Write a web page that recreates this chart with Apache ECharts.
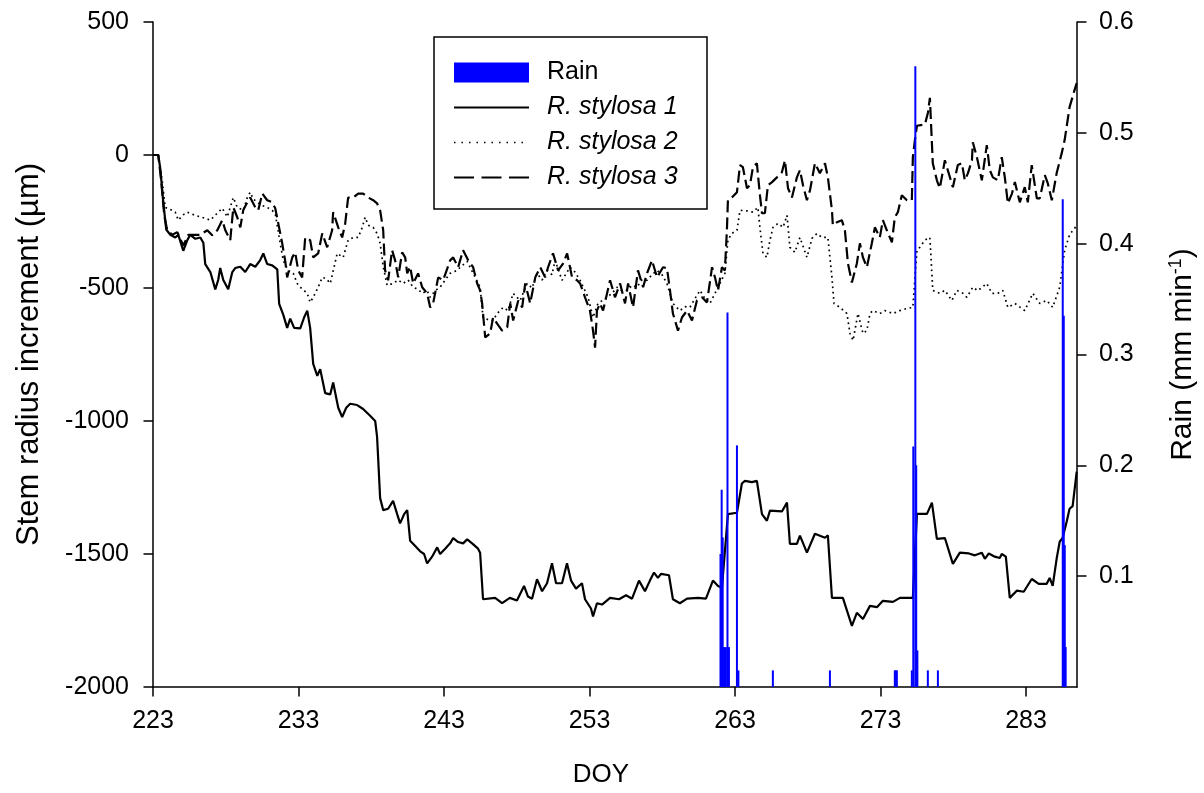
<!DOCTYPE html>
<html>
<head>
<meta charset="utf-8">
<script src="https://cdn.jsdelivr.net/npm/echarts@6/dist/echarts.min.js"></script>
<style>
  html, body { margin: 0; padding: 0; background: #fff; }
  #chart { width: 1204px; height: 793px; }
</style>
</head>
<body>
<div id="chart"></div>
<script>
// Day-of-year tick labels on the x axis
const doyTicks = [223, 233, 243, 253, 263, 273, 283];
// Rain-axis tick labels
const rainTicks = [0.1, 0.2, 0.3, 0.4, 0.5, 0.6];

// Rain intensity (mm min^-1) as [DOY, value]
const rain = [
  [262.00, 0.12], [262.08, 0.178], [262.15, 0.135], [262.24, 0.036], [262.37, 0.036],
  [262.48, 0.338], [262.58, 0.036], [263.13, 0.218], [263.23, 0.015], [265.60, 0.015],
  [269.52, 0.015], [273.98, 0.015], [274.05, 0.015], [274.12, 0.015], [275.15, 0.015],
  [275.25, 0.217], [275.39, 0.56], [275.45, 0.20], [275.53, 0.033], [276.25, 0.015],
  [276.94, 0.015], [285.52, 0.44], [285.59, 0.335], [285.66, 0.128], [285.72, 0.036]
];

// Stem radius increment (µm), tree 1, as [DOY, value]
const stylosa1 = [
  [223.00, 0], [223.36, 0], [223.50, -50], [223.71, -180], [223.91, -280], [224.19, -300],
  [224.53, -310], [224.74, -300], [225.08, -360], [225.36, -320], [225.56, -300], [225.91, -315],
  [226.25, -310], [226.46, -330], [226.59, -410], [226.94, -440], [227.28, -505], [227.48, -470],
  [227.62, -425], [227.83, -470], [228.17, -505], [228.45, -440], [228.65, -425], [229.00, -420],
  [229.34, -440], [229.68, -410], [230.03, -420], [230.37, -395], [230.58, -370], [230.85, -410],
  [231.19, -415], [231.54, -430], [231.67, -560], [231.95, -600], [232.22, -650], [232.43, -615],
  [232.70, -650], [233.12, -652], [233.39, -610], [233.60, -585], [233.80, -650], [234.01, -785],
  [234.29, -830], [234.49, -805], [234.83, -895], [235.18, -900], [235.38, -855], [235.73, -950],
  [236.00, -985], [236.28, -950], [236.55, -935], [237.03, -940], [237.44, -955], [237.92, -980],
  [238.27, -1000], [238.40, -1060], [238.61, -1290], [238.82, -1335], [239.16, -1330], [239.50, -1300],
  [239.78, -1350], [239.98, -1385], [240.26, -1350], [240.47, -1335], [240.67, -1450], [241.02, -1470],
  [241.36, -1490], [241.63, -1500], [241.84, -1535], [242.18, -1510], [242.53, -1475], [242.73, -1500],
  [243.08, -1480], [243.42, -1460], [243.63, -1440], [243.97, -1455], [244.31, -1460], [244.59, -1445],
  [244.93, -1460], [245.34, -1480], [245.48, -1495], [245.68, -1670], [246.51, -1665], [246.99, -1685],
  [247.52, -1665], [248.01, -1675], [248.50, -1620], [248.77, -1660], [249.05, -1668], [249.39, -1595],
  [249.74, -1640], [250.08, -1610], [250.42, -1535], [250.70, -1610], [251.11, -1610], [251.45, -1535],
  [251.73, -1600], [252.07, -1630], [252.48, -1610], [252.69, -1670], [253.10, -1705], [253.24, -1735],
  [253.51, -1685], [253.86, -1690], [254.41, -1665], [255.03, -1670], [255.51, -1655], [255.92, -1668],
  [256.40, -1600], [256.81, -1640], [257.15, -1600], [257.43, -1570], [257.70, -1590], [257.91, -1575],
  [258.46, -1580], [258.73, -1670], [259.21, -1685], [259.70, -1668], [260.45, -1665], [261.00, -1668],
  [261.48, -1600], [261.83, -1620], [262.10, -1627], [262.51, -1350], [263.13, -1345], [263.47, -1235],
  [263.68, -1225], [264.16, -1230], [264.50, -1225], [264.85, -1350], [265.19, -1375], [265.40, -1337],
  [266.22, -1340], [266.57, -1307], [266.77, -1462], [267.25, -1462], [267.46, -1431], [267.94, -1495],
  [268.49, -1424], [269.18, -1439], [269.38, -1430], [269.66, -1665], [270.41, -1665], [271.03, -1770],
  [271.37, -1721], [271.79, -1744], [272.27, -1695], [272.75, -1700], [273.16, -1676], [273.85, -1680],
  [274.33, -1665], [275.22, -1665], [275.50, -1349], [276.19, -1349], [276.53, -1307], [276.87, -1443],
  [277.42, -1440], [277.97, -1537], [278.45, -1495], [279.07, -1498], [279.48, -1505], [279.96, -1495],
  [280.17, -1518], [280.44, -1498], [280.85, -1510], [281.19, -1515], [281.33, -1500], [281.61, -1510],
  [281.88, -1665], [282.36, -1638], [282.84, -1642], [283.39, -1594], [283.87, -1612], [284.42, -1612],
  [284.62, -1590], [284.83, -1620], [285.10, -1518], [285.31, -1454], [285.51, -1440], [285.79, -1379],
  [285.99, -1330], [286.20, -1320], [286.48, -1190]
];

// Stem radius increment (µm), tree 2, as [DOY, value]
const stylosa2 = [
  [223.00, 0], [223.36, 0], [223.64, -100], [223.84, -197], [224.19, -205], [224.53, -215],
  [224.74, -245], [225.08, -225], [225.36, -215], [225.91, -227], [226.59, -238], [226.94, -245],
  [227.48, -215], [227.76, -200], [228.10, -233], [228.52, -160], [228.79, -197], [229.20, -208],
  [229.48, -160], [229.68, -140], [229.89, -165], [230.16, -178], [230.51, -190], [230.85, -197],
  [231.19, -208], [231.40, -220], [231.74, -332], [231.95, -396], [232.29, -434], [232.64, -445],
  [232.91, -483], [233.12, -497], [233.60, -520], [233.80, -554], [234.01, -535], [234.35, -497],
  [234.63, -460], [234.91, -465], [235.18, -483], [235.66, -370], [236.07, -385], [236.41, -320],
  [236.76, -310], [237.10, -310], [237.38, -272], [237.58, -234], [237.79, -264], [238.13, -272],
  [238.40, -295], [238.61, -332], [238.82, -420], [239.09, -490], [239.50, -483], [239.85, -470],
  [240.19, -483], [240.53, -470], [240.88, -497], [241.22, -505], [241.50, -520], [241.84, -510],
  [242.05, -535], [242.39, -510], [242.73, -497], [243.21, -460], [243.42, -445], [243.90, -434],
  [244.11, -422], [244.59, -400], [245.00, -445], [245.48, -497], [245.68, -611], [246.17, -622],
  [246.37, -622], [246.65, -596], [247.06, -573], [247.40, -585], [247.75, -520], [248.23, -547],
  [248.71, -483], [249.05, -500], [249.39, -445], [249.74, -470], [250.08, -434], [250.42, -450],
  [250.63, -396], [251.11, -471], [251.66, -422], [252.00, -440], [252.35, -471], [252.90, -535],
  [253.24, -611], [253.58, -558], [254.20, -535], [254.55, -520], [254.89, -497], [255.23, -510],
  [255.58, -509], [255.92, -490], [256.26, -497], [256.60, -470], [256.95, -471], [257.29, -450],
  [257.64, -434], [257.98, -450], [258.32, -483], [258.73, -558], [259.21, -585], [259.56, -570],
  [259.90, -573], [260.24, -540], [260.59, -509], [260.93, -540], [261.27, -558], [261.62, -520],
  [261.96, -483], [262.30, -445], [262.51, -320], [262.78, -295], [263.13, -283], [263.34, -208],
  [263.82, -210], [264.23, -215], [264.57, -197], [264.71, -272], [264.92, -370], [265.19, -385],
  [265.40, -320], [265.61, -272], [265.96, -257], [266.30, -272], [266.57, -227], [266.77, -347],
  [267.11, -366], [267.46, -310], [267.94, -385], [268.29, -313], [268.63, -295], [268.97, -310],
  [269.38, -310], [269.66, -460], [269.80, -558], [270.21, -573], [270.69, -596], [270.90, -671],
  [271.11, -697], [271.45, -596], [271.79, -671], [272.06, -660], [272.27, -596], [272.47, -585],
  [272.95, -596], [273.30, -585], [273.85, -596], [274.33, -585], [274.81, -577], [275.22, -573],
  [275.50, -358], [275.70, -347], [276.05, -320], [276.39, -310], [276.59, -509], [277.07, -520],
  [277.42, -509], [277.90, -547], [278.24, -509], [278.66, -520], [278.93, -535], [279.34, -497],
  [279.69, -510], [280.30, -483], [280.65, -520], [281.06, -520], [281.40, -509], [281.75, -573],
  [282.23, -558], [282.91, -585], [283.46, -520], [283.94, -558], [284.42, -547], [284.83, -573],
  [285.31, -497], [285.65, -358], [285.99, -300], [286.48, -265]
];

// Stem radius increment (µm), tree 3, as [DOY, value]
const stylosa3 = [
  [223.00, 0], [223.36, 0], [223.57, -100], [223.78, -230], [223.98, -283], [224.33, -300],
  [224.67, -290], [225.08, -340], [225.43, -300], [225.77, -300], [226.25, -300], [226.73, -283],
  [227.07, -302], [227.42, -283], [227.76, -245], [227.97, -283], [228.31, -320], [228.52, -197],
  [228.79, -234], [229.00, -272], [229.20, -208], [229.48, -178], [229.68, -160], [230.03, -197],
  [230.23, -208], [230.51, -145], [230.85, -170], [231.19, -178], [231.40, -200], [231.61, -257],
  [231.88, -332], [232.09, -400], [232.22, -460], [232.57, -385], [232.77, -366], [232.98, -434],
  [233.25, -460], [233.46, -310], [233.80, -320], [234.01, -385], [234.35, -370], [234.63, -295],
  [234.97, -347], [235.31, -283], [235.38, -215], [235.73, -272], [236.00, -310], [236.21, -257],
  [236.41, -160], [236.76, -160], [237.10, -145], [237.44, -145], [237.79, -160], [238.13, -170],
  [238.40, -182], [238.61, -208], [238.82, -283], [238.95, -434], [239.16, -471], [239.43, -358],
  [239.64, -396], [239.85, -460], [240.12, -366], [240.33, -385], [240.47, -445], [240.67, -420],
  [240.88, -483], [241.22, -445], [241.50, -497], [241.84, -520], [242.05, -573], [242.25, -558],
  [242.60, -460], [242.94, -471], [243.42, -396], [243.63, -385], [243.97, -422], [244.31, -358],
  [244.66, -396], [245.00, -422], [245.28, -483], [245.48, -509], [245.62, -558], [245.83, -686],
  [246.17, -671], [246.37, -611], [246.65, -634], [246.99, -660], [247.34, -648], [247.55, -558],
  [247.75, -622], [248.10, -547], [248.37, -573], [248.58, -483], [248.92, -558], [249.27, -460],
  [249.61, -422], [249.95, -460], [250.15, -422], [250.49, -370], [250.84, -434], [251.18, -408],
  [251.46, -370], [251.80, -460], [252.14, -471], [252.35, -483], [252.69, -535], [253.03, -585],
  [253.24, -660], [253.38, -724], [253.51, -585], [253.72, -558], [253.93, -585], [254.41, -471],
  [254.75, -535], [255.10, -483], [255.44, -558], [255.65, -483], [255.99, -573], [256.33, -434],
  [256.68, -497], [256.95, -445], [257.29, -396], [257.64, -460], [258.05, -422], [258.32, -425],
  [258.53, -509], [258.73, -596], [259.08, -660], [259.35, -611], [259.70, -585], [260.04, -622],
  [260.38, -547], [260.73, -535], [261.07, -554], [261.42, -422], [261.62, -460], [261.83, -509],
  [262.10, -422], [262.30, -434], [262.44, -283], [262.51, -170], [262.78, -160], [263.13, -140],
  [263.34, -38], [263.54, -46], [263.82, -125], [264.02, -114], [264.23, -46], [264.50, -31],
  [264.71, -151], [264.85, -219], [265.05, -219], [265.26, -114], [265.54, -102], [265.88, -84],
  [266.22, -65], [266.43, -20], [266.64, -125], [266.91, -160], [267.25, -84], [267.46, -57],
  [267.67, -114], [267.94, -170], [268.15, -133], [268.49, -31], [268.83, -69], [269.18, -31],
  [269.38, -84], [269.66, -208], [269.72, -264], [270.00, -253], [270.34, -245], [270.55, -283],
  [270.76, -408], [271.03, -479], [271.37, -408], [271.58, -332], [271.79, -385], [272.06, -422],
  [272.40, -332], [272.61, -272], [272.95, -310], [273.16, -245], [273.43, -283], [273.78, -328],
  [273.98, -234], [274.19, -215], [274.46, -151], [274.81, -170], [275.15, -170], [275.22, -8],
  [275.36, 56], [275.50, 110], [276.05, 115], [276.26, 160], [276.39, 215], [276.59, -31],
  [276.87, -95], [277.07, -125], [277.42, -20], [277.62, -57], [277.97, -121], [278.31, -38],
  [278.59, -31], [278.79, -95], [279.00, -69], [279.28, -20], [279.34, 48], [279.62, -8],
  [279.96, -95], [280.30, 37], [280.51, -57], [280.72, -84], [281.06, -95], [281.33, -8],
  [281.54, -84], [281.75, -182], [282.03, -145], [282.23, -102], [282.57, -178], [282.91, -121],
  [283.12, -178], [283.39, -38], [283.74, -163], [283.94, -163], [284.29, -76], [284.49, -106],
  [284.77, -170], [285.10, -69], [285.45, 7], [285.65, 56], [285.99, 180], [286.33, 244],
  [286.48, 270]
];

const FONT = "'Liberation Sans', Arial, Helvetica, sans-serif";
const chart = echarts.init(document.getElementById('chart'), null, { renderer: 'canvas' });

const axisLine = { show: true, onZero: false, lineStyle: { color: '#000', width: 1.5 } };
const axisTick = { show: true, inside: false, length: 9.5, lineStyle: { color: '#000', width: 1.5 } };
const labelStyle = { color: '#000', fontSize: 25, fontFamily: FONT };

chart.setOption({
  animation: false,
  backgroundColor: '#ffffff',
  grid: { left: 153, right: 127, top: 22, bottom: 106, containLabel: false, outerBoundsMode: 'none' },
  graphic: [{
    type: 'rect',
    shape: { x: 434, y: 37, width: 273, height: 172 },
    style: { fill: '#fff', stroke: '#000', lineWidth: 1.5 },
    z: 90
  }],
  legend: {
    orient: 'vertical',
    left: 453, top: 60,
    padding: 0,
    itemWidth: 75, itemHeight: 20, itemGap: 10,
    selectedMode: false,
    z: 100,
    // line entries show only their stroke, no marker
    itemStyle: { opacity: 0 },
    data: [
      { name: 'Rain', icon: 'rect', itemStyle: { opacity: 1, color: '#0000ff' } },
      { name: 'R. stylosa 1', lineStyle: { width: 2 } },
      { name: 'R. stylosa 2', lineStyle: { width: 1.5, type: [1.5, 6] } },
      { name: 'R. stylosa 3', lineStyle: { width: 2, type: [20, 7.5] } }
    ],
    formatter: function (n) { return n === 'Rain' ? n : '{it|' + n + '}'; },
    textStyle: {
      color: '#000', fontSize: 25, fontFamily: FONT, padding: [0, 0, 0, 13],
      rich: { it: { fontStyle: 'italic', fontSize: 25, fontFamily: FONT, color: '#000' } }
    }
  },
  xAxis: {
    type: 'value', min: 223, max: 286.5,
    name: 'DOY', nameLocation: 'middle', nameGap: 75,
    nameTextStyle: { color: '#000', fontSize: 26, fontFamily: FONT, padding: [0, 28, 0, 0] },
    axisLine: axisLine,
    axisTick: Object.assign({}, axisTick, { customValues: doyTicks }),
    axisLabel: Object.assign({}, labelStyle, { margin: 22, customValues: doyTicks }),
    splitLine: { show: false }
  },
  yAxis: [{
    type: 'value', min: -2000, max: 500, interval: 500, position: 'left',
    name: 'Stem radius increment (µm)', nameLocation: 'middle', nameGap: 108, nameRotate: 90,
    nameTextStyle: { color: '#000', fontSize: 31, fontFamily: FONT },
    axisLine: axisLine, axisTick: axisTick,
    axisLabel: Object.assign({}, labelStyle, {
      margin: 24, formatter: function (v) { return String(v); }
    }),
    splitLine: { show: false }
  }, {
    type: 'value', min: 0, max: 0.6, position: 'right',
    name: 'Rain (mm min{sup|-1})', nameLocation: 'middle', nameGap: 90, nameRotate: 90,
    nameTextStyle: {
      color: '#000', fontSize: 30, fontFamily: FONT,
      rich: { sup: { fontSize: 18, fontFamily: FONT, color: '#000', verticalAlign: 'top', padding: [0, 0, 14, 0] } }
    },
    axisLine: axisLine,
    axisTick: Object.assign({}, axisTick, { customValues: rainTicks }),
    axisLabel: Object.assign({}, labelStyle, {
      margin: 22, customValues: rainTicks,
      formatter: function (v) { return v.toFixed(1); }
    }),
    splitLine: { show: false }
  }],
  series: [{
    name: 'Rain', type: 'bar', yAxisIndex: 1, barWidth: 2, z: 3,
    itemStyle: { color: '#0000ff' },
    data: rain
  }, {
    name: 'R. stylosa 1', type: 'line', symbol: 'none', showSymbol: false, z: 2,
    lineStyle: { color: '#000', width: 2.2 }, itemStyle: { color: '#000' },
    data: stylosa1
  }, {
    name: 'R. stylosa 2', type: 'line', symbol: 'none', showSymbol: false, z: 2,
    lineStyle: { color: '#000', width: 1.7, type: [1.7, 3.6] }, itemStyle: { color: '#000' },
    data: stylosa2
  }, {
    name: 'R. stylosa 3', type: 'line', symbol: 'none', showSymbol: false, z: 2,
    lineStyle: { color: '#000', width: 2.2, type: [12, 5] }, itemStyle: { color: '#000' },
    data: stylosa3
  }]
});
</script>
</body>
</html>
